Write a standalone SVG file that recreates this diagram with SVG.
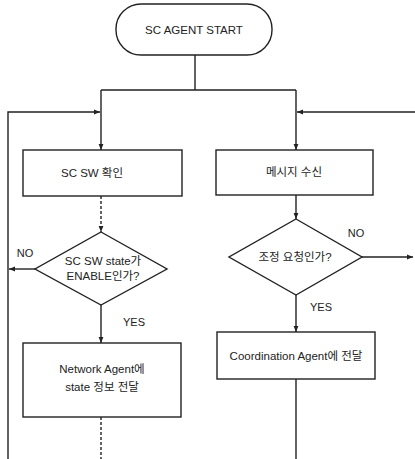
<svg xmlns="http://www.w3.org/2000/svg" width="415" height="459" viewBox="0 0 415 459">
<defs>
<style>
.shape{fill:#fff;stroke:#222;stroke-width:1.4}
.ln{fill:none;stroke:#222;stroke-width:1.4}
.dash{stroke-dasharray:3 2}
text{font-family:"Liberation Sans","Noto Sans CJK KR",sans-serif;font-size:11.5px;fill:#222;text-anchor:middle}
.lbl{font-size:11px}
</style>
<marker id="ah" viewBox="0 0 10 10" refX="10" refY="5" markerWidth="6" markerHeight="6" orient="auto-start-reverse" markerUnits="userSpaceOnUse">
<path d="M0,1 L10,5 L0,9 Z" fill="#222"/>
</marker>
</defs>
<rect width="415" height="459" fill="#fff"/>
<g id="connectors">
<path class="ln" d="M195,55 V90 M101,90 H296"/>
<path class="ln" d="M101,90 V150" marker-end="url(#ah)"/>
<path class="ln" d="M296,90 V150" marker-end="url(#ah)"/>
<path class="ln" d="M8,459 V112 H100" marker-end="url(#ah)"/>
<path class="ln" d="M415,112 H297" marker-end="url(#ah)"/>
<path class="ln dash" d="M101,196 V232" marker-end="url(#ah)"/>
<path class="ln" d="M35,269 H9" marker-end="url(#ah)"/>
<path class="ln" d="M101,305 V343" marker-end="url(#ah)"/>
<path class="ln dash" d="M101,417 V459"/>
<path class="ln" d="M296,195 V219" marker-end="url(#ah)"/>
<path class="ln" d="M362,257 H413" marker-end="url(#ah)"/>
<path class="ln" d="M296,295 V332" marker-end="url(#ah)"/>
<path class="ln" d="M296,379 V459"/>
<text class="lbl" x="25" y="257">NO</text>
<text class="lbl" x="134" y="326">YES</text>
<text class="lbl" x="356" y="237">NO</text>
<text class="lbl" x="321" y="311">YES</text>
</g>
<g id="start">
<rect class="shape" x="116" y="4" width="156" height="51" rx="25"/>
<text x="194" y="34">SC AGENT START</text>
</g>
<g id="sc-sw-check">
<rect class="shape" x="23" y="150" width="159" height="46"/>
<text x="92" y="177">SC SW 확인</text>
</g>
<g id="sc-sw-state">
<polygon class="shape" points="101,232 167,269 101,305 35,269"/>
<text x="103" y="265">SC SW state가</text>
<text x="103" y="280">ENABLE인가?</text>
</g>
<g id="network-agent">
<rect class="shape" x="23" y="343" width="158" height="74"/>
<text x="102" y="373">Network Agent에</text>
<text x="102" y="391">state 정보 전달</text>
</g>
<g id="msg-receive">
<rect class="shape" x="216" y="150" width="157" height="45"/>
<text x="294" y="176">메시지 수신</text>
</g>
<g id="request-check">
<polygon class="shape" points="296,219 362,257 296,295 229,257"/>
<text x="295" y="261">조정 요청인가?</text>
</g>
<g id="coordination-agent">
<rect class="shape" x="217" y="332" width="158" height="47"/>
<text x="296" y="360">Coordination Agent에 전달</text>
</g>
</svg>
